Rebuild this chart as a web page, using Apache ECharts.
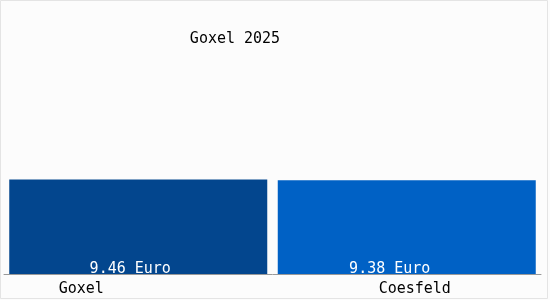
<!DOCTYPE html>
<html><head><meta charset="utf-8">
<script src="https://cdn.jsdelivr.net/npm/echarts@6/dist/echarts.min.js"></script>
<style>html,body{margin:0;padding:0;background:#fcfcfc}#c{width:550px;height:300px}</style>
</head><body><div id="c"></div>
<script>
const title = "Goxel 2025";
const categories = ["Goxel", "Coesfeld"];
const values = [9.46, 9.38];
const unit = "Euro";
const colors = ["#03468E", "#0061C5"];
const labelShift = [-8, -17];

const font = "DejaVu Sans Mono";
const chart = echarts.init(document.getElementById('c'));
chart.setOption({
  backgroundColor: '#fcfcfc',
  animation: false,
  title: { text: title, left: 230, top: 27, textAlign: 'center',
    textStyle: { fontFamily: font, fontSize: 15, fontWeight: 'normal', color: '#000' } },
  grid: { left: 4, right: 9, top: 24, bottom: 26 },
  xAxis: { type: 'category', data: categories,
    axisLine: { lineStyle: { color: '#999', width: 1 } },
    axisTick: { show: false },
    axisLabel: { margin: 8, fontFamily: font, fontSize: 15, color: '#000',
      formatter: (v, i) => i === 0 ? '{a|' + v + '}' : '{b|' + v + '}',
      rich: { a: { fontFamily: font, fontSize: 15, color: '#000', padding: [0, 114, 0, 0] },
              b: { fontFamily: font, fontSize: 15, color: '#000', padding: [0, 0, 0, 16] } } } },
  yAxis: { type: 'value', min: 0, max: 25, show: false, splitLine: { show: false } },
  series: [{
    type: 'bar', barWidth: 258,
    data: values.map((v, i) => ({ value: v, itemStyle: { color: colors[i] },
      label: { offset: [labelShift[i], 3] } })),
    label: { show: true, position: 'insideBottom', distance: 0,
      fontFamily: font, fontSize: 15, color: '#fff',
      formatter: p => p.value.toFixed(2) + ' ' + unit }
  }],
  graphic: [{ type: 'rect', shape: { x: 0.5, y: 0.5, width: 547, height: 298 },
    style: { fill: 'none', stroke: '#e4e4e4', lineWidth: 1 }, silent: true }]
});
</script></body></html>
